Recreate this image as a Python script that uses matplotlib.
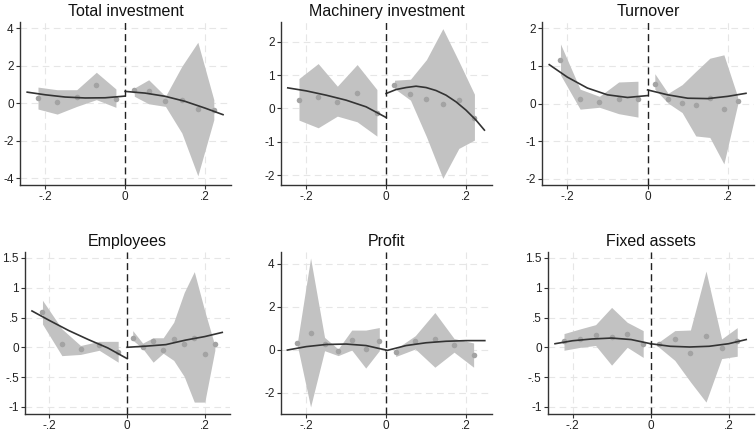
import matplotlib.pyplot as plt

plt.rcParams["font.family"] = ["Liberation Sans", "DejaVu Sans"]

# Each panel: binned means, CI band, and the fitted curve on both sides of the cutoff
titles = ["Total investment", "Machinery investment", "Turnover",
          "Employees", "Profit", "Fixed assets"]

# --- Total investment
ti_xl = [-0.218, -0.170, -0.121, -0.072, -0.023]
ti_yl = [0.27, 0.04, 0.30, 0.94, 0.23]
ti_ul = [0.85, 0.71, 0.71, 1.64, 0.75]
ti_ll = [-0.32, -0.59, -0.18, 0.18, -0.23]
ti_xr = [0.023, 0.059, 0.101, 0.142, 0.182, 0.222]
ti_yr = [0.71, 0.62, 0.09, 0.18, -0.32, -0.36]
ti_ur = [0.80, 1.24, 0.36, 1.96, 3.24, 0.18]
ti_lr = [0.36, -0.04, -0.18, -1.60, -3.88, -0.89]
ti_fxl = [-0.245, -0.2, -0.15, -0.1, -0.05, 0.0]
ti_fyl = [0.58, 0.44, 0.32, 0.27, 0.28, 0.37]
ti_fxr = [0.0, 0.05, 0.1, 0.15, 0.2, 0.245]
ti_fyr = [0.62, 0.53, 0.36, 0.09, -0.27, -0.62]

# --- Machinery investment
mi_xl = [-0.218, -0.170, -0.122, -0.0725, -0.023]
mi_yl = [0.27, 0.35, 0.20, 0.47, -0.15]
mi_ul = [0.90, 1.35, 0.67, 1.32, 0.57]
mi_ll = [-0.35, -0.58, -0.23, -0.40, -0.83]
mi_xr = [0.021, 0.061, 0.101, 0.142, 0.182, 0.221]
mi_yr = [0.70, 0.43, 0.29, 0.15, 0.25, -0.30]
mi_ur = [0.85, 0.88, 1.47, 2.40, 1.42, 0.43]
mi_lr = [0.60, 0.25, -0.85, -2.10, -1.20, -0.95]
mi_fxl = [-0.246, -0.2, -0.15, -0.1, -0.05, 0.0]
mi_fyl = [0.62, 0.53, 0.40, 0.25, 0.05, -0.27]
mi_fxr = [0.0, 0.025, 0.05, 0.075, 0.1, 0.125, 0.15, 0.175, 0.2, 0.225, 0.246]
mi_fyr = [0.45, 0.57, 0.63, 0.67, 0.63, 0.54, 0.40, 0.20, -0.05, -0.35, -0.65]

# --- Turnover
tu_xl = [-0.217, -0.168, -0.120, -0.072, -0.024]
tu_yl = [1.16, 0.12, 0.03, 0.13, 0.12]
tu_ul = [1.58, 0.38, 0.19, 0.57, 0.59]
tu_ll = [0.76, -0.15, -0.10, -0.27, -0.36]
tu_xr = [0.018, 0.051, 0.086, 0.120, 0.155, 0.190, 0.224]
tu_yr = [0.51, 0.12, 0.01, -0.03, 0.14, -0.15, 0.06]
tu_ur = [0.79, 0.27, 0.50, 0.85, 1.20, 1.29, 0.19]
tu_lr = [0.38, 0.01, -0.24, -0.86, -0.90, -1.60, -0.04]
tu_fxl = [-0.245, -0.2, -0.15, -0.1, -0.05, 0.0]
tu_fyl = [1.03, 0.70, 0.41, 0.23, 0.16, 0.21]
tu_fxr = [0.0, 0.05, 0.1, 0.15, 0.2, 0.245]
tu_fyr = [0.36, 0.23, 0.14, 0.13, 0.19, 0.27]

# --- Employees
em_xl = [-0.218, -0.168, -0.120, -0.072, -0.023]
em_yl = [0.60, 0.06, -0.03, 0.04, -0.08]
em_ul = [0.79, 0.31, 0.03, 0.10, 0.10]
em_ll = [0.39, -0.14, -0.12, -0.05, -0.25]
em_xr = [0.0145, 0.040, 0.067, 0.093, 0.120, 0.147, 0.173, 0.200, 0.226]
em_yr = [0.15, 0.00, 0.10, -0.05, 0.14, 0.05, 0.16, -0.12, 0.05]
em_ur = [0.28, 0.07, 0.16, 0.16, 0.42, 0.92, 1.27, 0.61, 0.03]
em_lr = [0.12, -0.02, -0.25, -0.10, -0.22, -0.49, -0.92, -0.92, -0.05]
em_fxl = [-0.245, -0.2, -0.15, -0.1, -0.05, 0.0]
em_fyl = [0.61, 0.45, 0.28, 0.13, -0.01, -0.19]
em_fxr = [0.0, 0.05, 0.1, 0.15, 0.2, 0.245]
em_fyr = [0.0, 0.02, 0.045, 0.12, 0.18, 0.25]

# --- Profit
pr_xl = [-0.222, -0.189, -0.154, -0.120, -0.086, -0.051, -0.017]
pr_yl = [0.31, 0.77, 0.26, -0.05, 0.45, 0.02, 0.39]
pr_ul = [0.34, 4.27, 0.57, 0.03, 0.91, 0.91, 1.03]
pr_ll = [0.19, -2.67, -0.05, -0.28, -0.02, -0.86, -0.05]
pr_xr = [0.024, 0.073, 0.122, 0.170, 0.219]
pr_yr = [-0.12, 0.39, 0.49, 0.22, -0.23]
pr_ur = [0.03, 0.65, 1.73, 0.52, 0.31]
pr_lr = [-0.32, 0.03, -0.82, -0.12, -0.82]
pr_fxl = [-0.247, -0.2, -0.15, -0.1, -0.05, 0.0]
pr_fyl = [-0.02, 0.14, 0.24, 0.26, 0.19, -0.02]
pr_fxr = [0.0, 0.05, 0.1, 0.15, 0.2, 0.247]
pr_fyr = [-0.05, 0.19, 0.32, 0.39, 0.42, 0.42]

# --- Fixed assets
fa_xl = [-0.222, -0.180, -0.141, -0.100, -0.060, -0.019]
fa_yl = [0.10, 0.14, 0.20, 0.18, 0.23, 0.05]
fa_ul = [0.23, 0.31, 0.38, 0.67, 0.42, 0.28]
fa_ll = [-0.05, 0.00, 0.03, -0.30, 0.00, -0.17]
fa_xr = [0.0215, 0.062, 0.102, 0.142, 0.182, 0.222]
fa_yr = [0.05, 0.14, -0.09, 0.19, -0.02, 0.10]
fa_ur = [0.09, 0.28, 0.29, 1.28, 0.14, 0.33]
fa_lr = [0.00, -0.22, -0.58, -0.92, -0.19, -0.15]
fa_fxl = [-0.245, -0.2, -0.15, -0.1, -0.05, 0.0]
fa_fyl = [0.06, 0.11, 0.14, 0.155, 0.13, 0.06]
fa_fxr = [0.0, 0.05, 0.1, 0.15, 0.2, 0.245]
fa_fyr = [0.06, 0.017, 0.005, 0.017, 0.06, 0.13]

panels = [
    (ti_xl, ti_yl, ti_ul, ti_ll, ti_xr, ti_yr, ti_ur, ti_lr, ti_fxl, ti_fyl, ti_fxr, ti_fyr),
    (mi_xl, mi_yl, mi_ul, mi_ll, mi_xr, mi_yr, mi_ur, mi_lr, mi_fxl, mi_fyl, mi_fxr, mi_fyr),
    (tu_xl, tu_yl, tu_ul, tu_ll, tu_xr, tu_yr, tu_ur, tu_lr, tu_fxl, tu_fyl, tu_fxr, tu_fyr),
    (em_xl, em_yl, em_ul, em_ll, em_xr, em_yr, em_ur, em_lr, em_fxl, em_fyl, em_fxr, em_fyr),
    (pr_xl, pr_yl, pr_ul, pr_ll, pr_xr, pr_yr, pr_ur, pr_lr, pr_fxl, pr_fyl, pr_fxr, pr_fyr),
    (fa_xl, fa_yl, fa_ul, fa_ll, fa_xr, fa_yr, fa_ur, fa_lr, fa_fxl, fa_fyl, fa_fxr, fa_fyr),
]

y_limits = [(-4.37, 4.32), (-2.3, 2.6), (-2.16, 2.16),
            (-1.12, 1.6), (-3.0, 4.55), (-1.12, 1.6)]
y_ticks = [[-4, -2, 0, 2, 4], [-2, -1, 0, 1, 2], [-2, -1, 0, 1, 2],
           [-1, -0.5, 0, 0.5, 1, 1.5], [-2, 0, 2, 4], [-1, -0.5, 0, 0.5, 1, 1.5]]
y_ticklabels = [["-4", "-2", "0", "2", "4"], ["-2", "-1", "0", "1", "2"],
                ["-2", "-1", "0", "1", "2"], ["-1", "-.5", "0", ".5", "1", "1.5"],
                ["-2", "0", "2", "4"], ["-1", "-.5", "0", ".5", "1", "1.5"]]

# axes boxes in pixels: left, right, top, bottom
W, H = 756, 433
boxes = [(20, 231, 22, 185), (281, 492, 22, 185), (542, 754, 22, 185),
         (25, 230, 252, 414), (281, 492, 252, 414), (548, 754, 252, 414)]

fig = plt.figure(figsize=(W / 100, H / 100), dpi=100)

for i, (l, r, t, b) in enumerate(boxes):
    ax = fig.add_axes([l / W, (H - b) / H, (r - l) / W, (b - t) / H])
    xl, yl, ul, ll, xr, yr, ur, lr, fxl, fyl, fxr, fyr = panels[i]

    # CI bands
    ax.fill_between(xl, ll, ul, color="#c2c2c2", lw=0, zorder=2)
    ax.fill_between(xr, lr, ur, color="#c2c2c2", lw=0, zorder=2)

    # binned means
    ax.plot(xl, yl, "o", color="#a3a3a3", ms=4, mew=0, zorder=3)
    ax.plot(xr, yr, "o", color="#a3a3a3", ms=4, mew=0, zorder=3)

    # fitted curves
    ax.plot(fxl, fyl, color="#333333", lw=1.2, zorder=4)
    ax.plot(fxr, fyr, color="#333333", lw=1.2, zorder=4)

    # cutoff
    ax.axvline(0, color="#222222", lw=1.0, ls=(0, (5, 3)), zorder=5)

    ax.set_xlim(-0.263, 0.265)
    ax.set_ylim(*y_limits[i])
    ax.set_xticks([-0.2, 0, 0.2])
    ax.set_xticklabels(["-.2", "0", ".2"])
    ax.set_yticks(y_ticks[i])
    ax.set_yticklabels(y_ticklabels[i])

    ax.grid(True, color="#e6e6e6", lw=0.8, ls=(0, (6, 4)), zorder=0)
    ax.set_axisbelow(True)
    for side in ["top", "right"]:
        ax.spines[side].set_visible(False)
    for side in ["left", "bottom"]:
        ax.spines[side].set_color("#333333")
        ax.spines[side].set_linewidth(1.0)
    ax.tick_params(direction="out", length=3, width=0.8, color="#333333",
                   labelsize=8.5, pad=1.5, labelcolor="#222222")
    ax.set_title(titles[i], fontsize=11.5, pad=4, color="#111111")

fig.savefig("out.png", dpi=100)
